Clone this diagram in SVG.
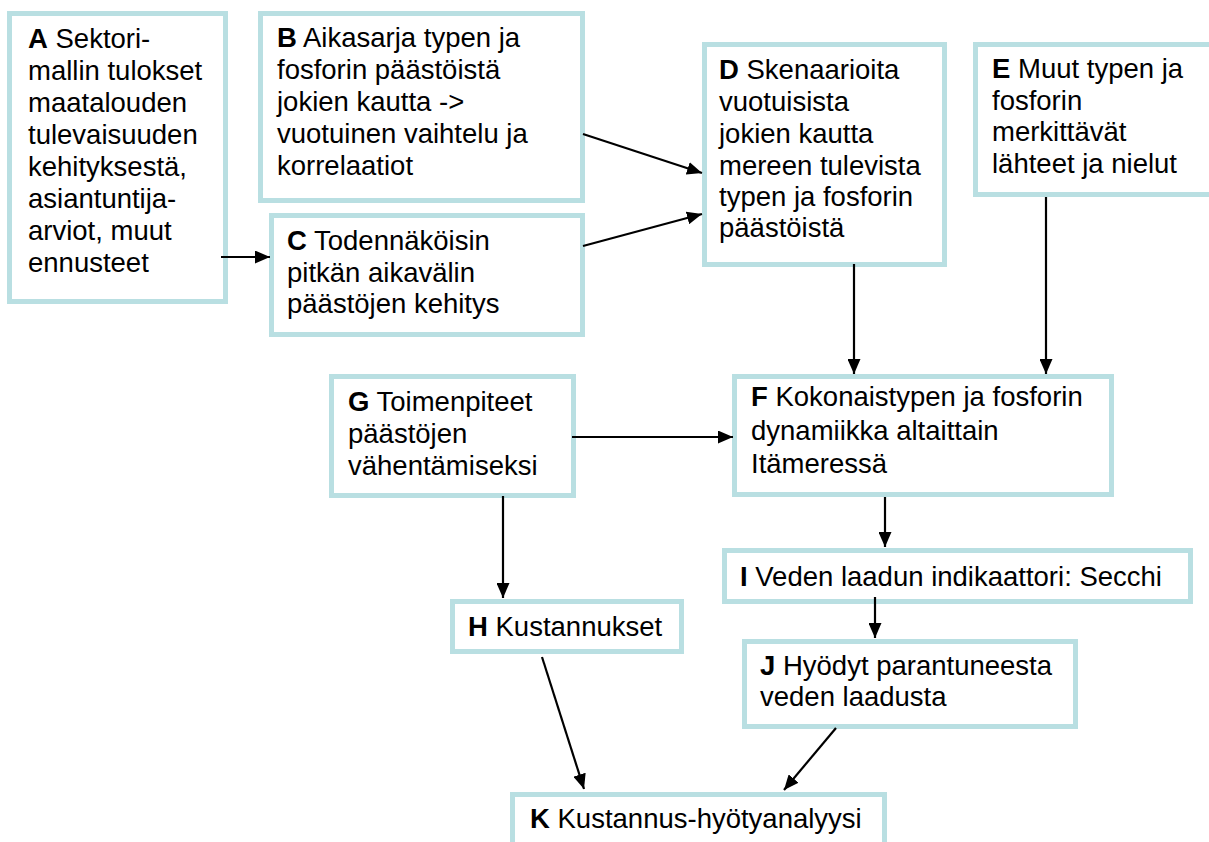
<svg xmlns="http://www.w3.org/2000/svg" width="1209" height="842" viewBox="0 0 1209 842">
<style>
.box{fill:#ffffff;stroke:#b9dfe2;stroke-width:5}
text{font-family:"Liberation Sans",Arial,sans-serif;font-size:27.5px;fill:#000}
.b{font-weight:bold}
.c{stroke:#000;stroke-width:2.2;fill:none;marker-end:url(#ah)}
</style>
<defs>
<marker id="ah" markerUnits="userSpaceOnUse" markerWidth="15" markerHeight="13" refX="15" refY="6.5" orient="auto">
<path d="M0,0 L15,6.5 L0,13 Z" fill="#000"/>
</marker>
</defs>
<rect width="1209" height="842" fill="#fff"/>
<g id="A"><rect class="box" x="9.5" y="13.5" width="216" height="288"/>
<text x="28" y="48"><tspan class="b">A</tspan> Sektori-</text>
<text x="28" y="80">mallin tulokset</text>
<text x="28" y="112">maatalouden</text>
<text x="28" y="144">tulevaisuuden</text>
<text x="28" y="176">kehityksestä,</text>
<text x="28" y="208">asiantuntija-</text>
<text x="28" y="240">arviot, muut</text>
<text x="28" y="272">ennusteet</text></g>
<g id="B"><rect class="box" x="260.5" y="13.5" width="322" height="187"/>
<text x="277" y="47"><tspan class="b">B</tspan> Aikasarja typen ja</text>
<text x="277" y="79">fosforin päästöistä</text>
<text x="277" y="111">jokien kautta -&gt;</text>
<text x="277" y="143">vuotuinen vaihtelu ja</text>
<text x="277" y="175">korrelaatiot</text></g>
<g id="C"><rect class="box" x="271.5" y="215.5" width="311" height="119"/>
<text x="287" y="250"><tspan class="b">C</tspan> Todennäköisin</text>
<text x="287" y="282">pitkän aikavälin</text>
<text x="287" y="313">päästöjen kehitys</text></g>
<g id="D"><rect class="box" x="704.5" y="44.5" width="240" height="220"/>
<text x="719" y="79"><tspan class="b">D</tspan> Skenaarioita</text>
<text x="719" y="111">vuotuisista</text>
<text x="719" y="143">jokien kautta</text>
<text x="719" y="175">mereen tulevista</text>
<text x="719" y="206">typen ja fosforin</text>
<text x="719" y="237">päästöistä</text></g>
<g id="E"><rect class="box" x="975.5" y="44.5" width="240" height="150"/>
<text x="992" y="78"><tspan class="b">E</tspan> Muut typen ja</text>
<text x="992" y="110">fosforin</text>
<text x="992" y="141">merkittävät</text>
<text x="992" y="173">lähteet ja nielut</text></g>
<g id="F"><rect class="box" x="734.5" y="376.5" width="377" height="118"/>
<text x="751" y="406"><tspan class="b">F</tspan> Kokonaistypen ja fosforin</text>
<text x="751" y="440">dynamiikka altaittain</text>
<text x="751" y="473">Itämeressä</text></g>
<g id="G"><rect class="box" x="331.5" y="376.5" width="242" height="119"/>
<text x="348" y="411"><tspan class="b">G</tspan> Toimenpiteet</text>
<text x="348" y="443">päästöjen</text>
<text x="348" y="475">vähentämiseksi</text></g>
<g id="H"><rect class="box" x="452.5" y="601.5" width="229" height="50"/>
<text x="468" y="636"><tspan class="b">H</tspan> Kustannukset</text></g>
<g id="I"><rect class="box" x="724.5" y="550.5" width="466" height="51"/>
<text x="740" y="586"><tspan class="b">I</tspan> Veden laadun indikaattori: Secchi</text></g>
<g id="J"><rect class="box" x="744.5" y="641.5" width="331" height="85"/>
<text x="760" y="675"><tspan class="b">J</tspan> Hyödyt parantuneesta</text>
<text x="760" y="706">veden laadusta</text></g>
<g id="K"><rect class="box" x="512.5" y="794.5" width="372" height="60"/>
<text x="530" y="828"><tspan class="b">K</tspan> Kustannus-hyötyanalyysi</text></g>
<g id="connectors">
<line class="c" x1="221" y1="257" x2="270" y2="257"/>
<line class="c" x1="583" y1="134" x2="702" y2="173"/>
<line class="c" x1="583" y1="246" x2="702" y2="214"/>
<line class="c" x1="854" y1="264" x2="854" y2="374"/>
<line class="c" x1="1046" y1="197" x2="1046" y2="374"/>
<line class="c" x1="572" y1="437" x2="733" y2="437"/>
<line class="c" x1="503" y1="496" x2="503" y2="598"/>
<line class="c" x1="885" y1="497" x2="885" y2="547"/>
<line class="c" x1="875" y1="597" x2="875" y2="638"/>
<line class="c" x1="542" y1="657" x2="584" y2="789"/>
<line class="c" x1="836" y1="728" x2="784" y2="790"/>
</g>
</svg>
